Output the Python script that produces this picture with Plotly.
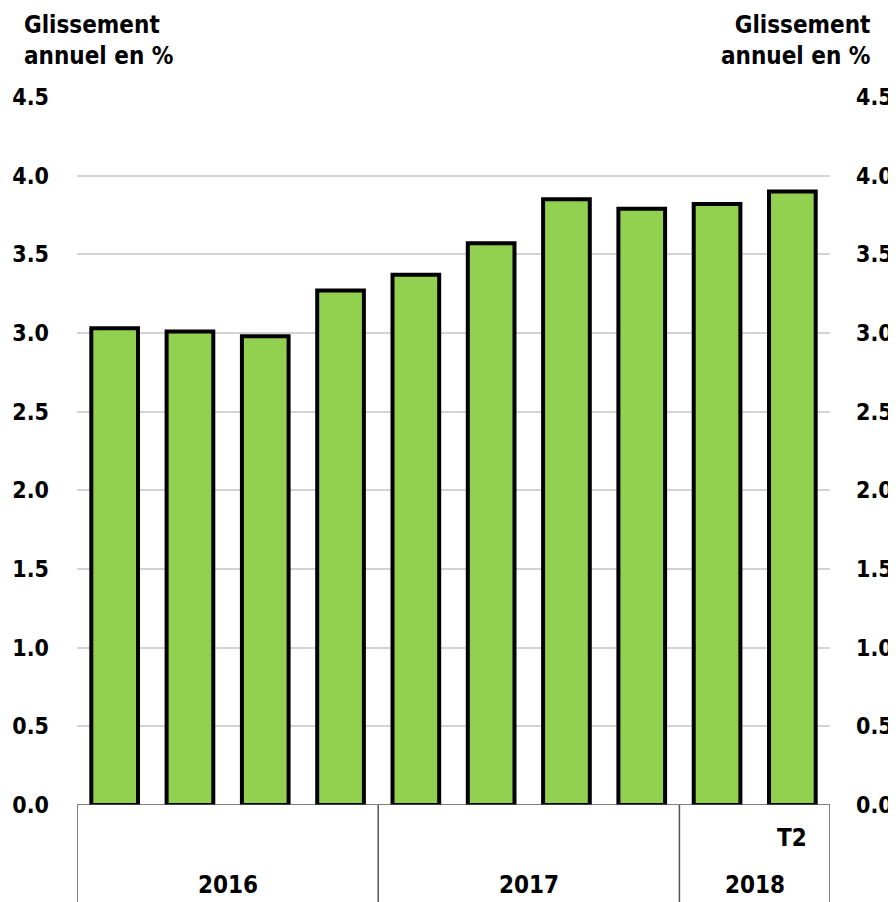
import plotly.graph_objects as go

quarters = ["T1", "T2", "T3", "T4", "T1", "T2", "T3", "T4", "T1", "T2"]
values = [3.03, 3.01, 2.98, 3.27, 3.37, 3.57, 3.85, 3.79, 3.82, 3.90]
years = ["2016", "2017", "2018"]
year_counts = [4, 4, 2]
y_ticks = [0.0, 0.5, 1.0, 1.5, 2.0, 2.5, 3.0, 3.5, 4.0, 4.5]
y_title = "Glissement<br>annuel en %"
shown_quarter_labels = ["", "", "", "", "", "", "", "", "", "T2"]

FONT = "DejaVu Sans Condensed, Liberation Sans, sans-serif"
FS = 24
TFS = 23
x = list(range(len(values)))

fig = go.Figure()
fig.add_trace(go.Bar(x=x, y=values, marker=dict(color="#92D050", line=dict(color="black", width=4)),
                     hoverinfo="skip"))
fig.add_trace(go.Scatter(x=[x[0]], y=[values[0]], yaxis="y2", mode="markers",
                         marker=dict(opacity=0), hoverinfo="skip", showlegend=False))

tick_text = [f"<b>{v:.1f}</b>" for v in y_ticks]
fig.update_layout(
    width=888, height=894, showlegend=False, bargap=0.38,
    plot_bgcolor="white", paper_bgcolor="white",
    margin=dict(l=69, r=66, t=89, b=97, autoexpand=False),
    font=dict(family=FONT, size=FS, color="black"),
    xaxis=dict(range=[-0.5, len(values) - 0.5], showticklabels=False, showgrid=False,
               zeroline=False, showline=False, ticks="", automargin=False),
    yaxis=dict(range=[0, 4.5], tickvals=y_ticks, ticktext=tick_text, showgrid=True,
               gridcolor="#d3d3d3", gridwidth=2, zeroline=False, showline=False,
               tickfont=dict(family=FONT, size=TFS, color="black"), ticks="",
               ticklabelstandoff=27, automargin=False),
    yaxis2=dict(range=[0, 4.5], tickvals=y_ticks, ticktext=tick_text, overlaying="y", side="right",
                showgrid=False, zeroline=False, showline=False, ticks="",
                tickfont=dict(family=FONT, size=TFS, color="black"), ticklabelstandoff=25,
                automargin=False),
)

# baseline
fig.add_shape(type="line", xref="paper", yref="y", x0=0, x1=1, y0=0, y1=0,
              line=dict(color="#555555", width=1.5))

# category dividers and year labels
edges = [-0.5]
for c in year_counts:
    edges.append(edges[-1] + c)
for e in edges:
    fig.add_shape(type="line", xref="x", yref="paper", x0=e, x1=e, y0=0, y1=-0.14,
                  line=dict(color="#555555", width=1.5))
for i, yr in enumerate(years):
    fig.add_annotation(x=(edges[i] + edges[i + 1]) / 2, y=-0.113, xref="x", yref="paper",
                       text=f"<b>{yr}</b>", showarrow=False, yanchor="middle",
                       font=dict(family=FONT, size=FS, color="black"))
for xi, q in zip(x, shown_quarter_labels):
    if q:
        fig.add_annotation(x=xi, y=-0.047, xref="x", yref="paper", text=f"<b>{q}</b>",
                           showarrow=False, yanchor="middle",
                           font=dict(family=FONT, size=FS, color="black"))

fig.add_annotation(x=-0.073, y=1.0805, xref="paper", yref="paper", text=f"<b>{y_title}</b>",
                   showarrow=False, xanchor="left", yanchor="middle", align="left",
                   font=dict(family=FONT, size=FS, color="black"))
fig.add_annotation(x=1.056, y=1.0805, xref="paper", yref="paper", text=f"<b>{y_title}</b>",
                   showarrow=False, xanchor="right", yanchor="middle", align="right",
                   font=dict(family=FONT, size=FS, color="black"))

fig.write_html("out.html")
